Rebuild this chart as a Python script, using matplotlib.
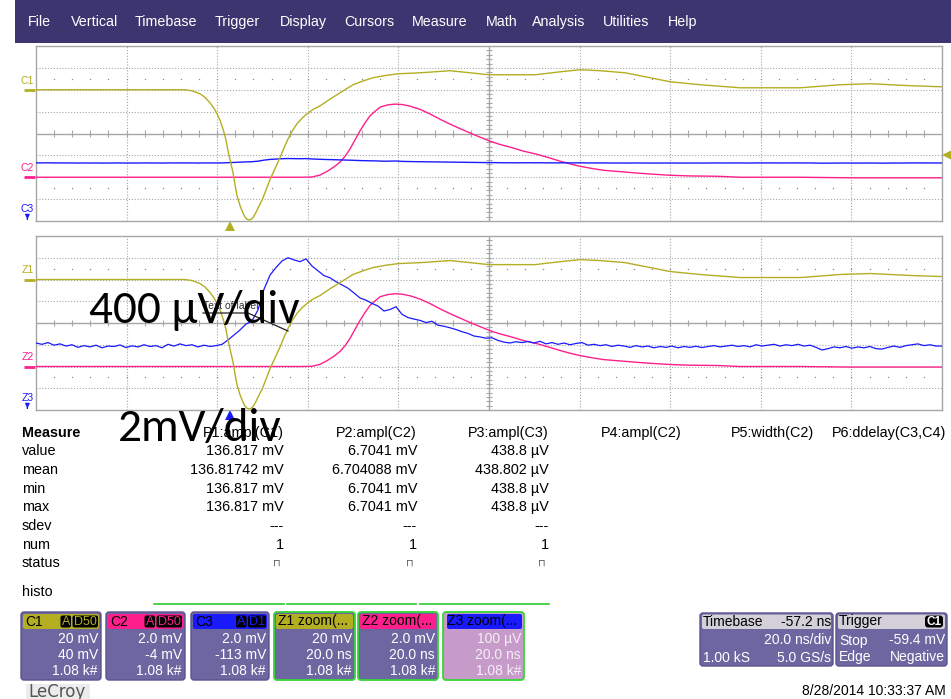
import numpy as np
import matplotlib
matplotlib.use("Agg")
import matplotlib.pyplot as plt
from matplotlib.patches import FancyBboxPatch, Rectangle
from matplotlib import font_manager
import matplotlib.transforms as mtransforms

_names = {f.name for f in font_manager.fontManager.ttflist}
SANS = 'Liberation Sans' if 'Liberation Sans' in _names else 'DejaVu Sans'
BIG = 'Carlito' if 'Carlito' in _names else ('Lato' if 'Lato' in _names else 'DejaVu Sans')

# ---------------- data ----------------
menu_items = ["File", "Vertical", "Timebase", "Trigger", "Display", "Cursors",
              "Measure", "Math", "Analysis", "Utilities", "Help"]

tdiv_ns = 20.0          # timebase ns/div
delay_ns = -57.2        # timebase delay

# C1 / Z1 (20 mV/div, offset 40 mV)
c1_t = [-42.80, -9.90, -8.36, -6.59, -5.48, -4.38, -3.50, -2.84, -2.17, -1.51, -0.85,
        -0.41, 0.26, 0.70, 1.14, 1.58, 2.24, 2.91, 3.35, 3.79, 4.45, 5.11, 5.78, 6.22,
        7.10, 7.76, 8.87, 9.97, 11.08, 11.96, 12.84, 13.72, 14.83, 15.93, 17.04, 18.36,
        19.91, 22.12, 24.32, 27.19, 29.40, 31.61, 34.26, 37.13, 41.99, 48.61, 53.03,
        57.22, 67.38, 72.90, 77.32, 81.73, 87.25, 92.77, 97.19, 103.81, 112.64, 125.89,
        134.72, 141.35, 150.18, 157.24]
c1_mV = [0, 0, -1, -3.7, -7, -12, -17, -22, -28, -36, -46,
         -56, -68, -76, -87, -97, -106, -113, -116.5, -118.5, -119, -117, -112, -108,
         -101, -94, -82, -72, -62, -53, -45, -38, -31, -26, -22, -18,
         -14.7, -8.5, -2.8, 4.6, 8, 11, 13, 14.6, 15.5, 17.4, 15.5,
         13.7, 13.7, 16.4, 18.3, 17.4, 15.5, 11, 7.3, 4.6, 1.8, 1.8,
         4.6, 5.5, 3.7, 2.7]
c1_scale, c1_offset = 20.0, 40.0

# C2 / Z2 (2 mV/div, offset -4 mV)
c2_t = [-42.8, 15.5, 18.1, 19.9, 21.5, 23.0, 24.3, 25.4, 26.5, 27.6, 28.7, 29.8, 30.9,
        32.1, 33.2, 34.9, 36.5, 38.0, 39.8, 42.0, 44.2, 46.4, 48.6, 50.8, 53.0, 55.2,
        57.4, 59.6, 61.9, 64.7, 67.8, 70.7, 72.9, 75.1, 77.3, 80.0, 82.4, 85.0, 87.7,
        90.6, 93.4, 97.2, 101.6, 107.6, 112.6, 125.9, 136.9, 148.0, 157.2]
c2_mV = [0, 0, 0.02, 0.2, 0.55, 0.95, 1.38, 1.9, 2.57, 3.4, 4.22, 4.95, 5.6,
         6.05, 6.42, 6.62, 6.69, 6.65, 6.5, 6.2, 5.78, 5.3, 4.86, 4.45, 4.05, 3.67,
         3.3, 3.0, 2.75, 2.4, 2.1, 1.75, 1.47, 1.22, 1.0, 0.8, 0.64, 0.55, 0.46,
         0.36, 0.28, 0.18, 0.12, 0.09, 0.0, 0.0, -0.05, -0.05, -0.05]
c2_scale, c2_offset = 2.0, -4.0

# C3 / Z3 (2 mV/div offset -113 mV ; zoom 100 uV/div), samples across the screen
c3_base_mV = 110.3
c3_uV = [18, 12, 20, 8, 14, 4, 10, -2, 6, 0, 8, -4, 4, 2, 9, -3, 5, 0, 10, 2,
         6, -4, 12, 4, 14, 6, 10, 0, 8, 2, 6, 12, 32, 55, 78, 105, 120, 170, 265, 330,
         365, 395, 410, 400, 392, 405, 372, 350, 328, 318, 300, 285, 270, 248, 225, 215,
         200, 188, 165, 172, 185, 150, 135, 128, 122, 112, 118, 100, 95, 88, 80, 70,
         62, 50, 46, 40, 42, 30, 22, 18, 24, 20, 25, 18, 26, 14, 20, 12, 18, 10,
         16, 20, 8, 12, 6, 10, 2, 8, 4, -2, 6, 0, 4, -4, 2, -2, 4, -4, 2, -2,
         3, -3, 2, 6, 0, 4, 8, 2, 6, 0, 10, 4, 8, 12, 4, 10, 6, 12, 4, 8,
         -2, -14, -8, 0, -4, 2, -6, 0, -4, 2, -8, -10, -2, 4, -2, 6, 10, 14, 6, 10,
         4, 4]
c3_scale, c3_offset = 2.0, -113.0
z3_scale, z3_center = 0.1, 110.41
trig_level_mV = -59.4

meas_labels = ["value", "mean", "min", "max", "sdev", "num", "status"]
meas_headers = ["P1:ampl(C1)", "P2:ampl(C2)", "P3:ampl(C3)", "P4:ampl(C2)",
                "P5:width(C2)", "P6:ddelay(C3,C4)"]
p1_vals = ["136.817 mV", "136.81742 mV", "136.817 mV", "136.817 mV", "---", "1"]
p2_vals = ["6.7041 mV", "6.704088 mV", "6.7041 mV", "6.7041 mV", "---", "1"]
p3_vals = ["438.8 µV", "438.802 µV", "438.8 µV", "438.8 µV", "---", "1"]

ch_names = ["C1", "C2", "C3", "Z1 zoom(...", "Z2 zoom(...", "Z3 zoom(..."]
ch_badges = [["A", "D50"], ["A", "D50"], ["A", "D1"], [], [], []]
ch_rows = [["20 mV", "40 mV", "1.08 k#"], ["2.0 mV", "-4 mV", "1.08 k#"],
           ["2.0 mV", "-113 mV", "1.08 k#"], ["20 mV", "20.0 ns", "1.08 k#"],
           ["2.0 mV", "20.0 ns", "1.08 k#"], ["100 µV", "20.0 ns", "1.08 k#"]]
tb_rows = [("Timebase", "-57.2 ns"), ("", "20.0 ns/div"), ("1.00 kS", "5.0 GS/s")]
trig_rows = [("Trigger", "C1"), ("Stop", "-59.4 mV"), ("Edge", "Negative")]
date_text = "8/28/2014 10:33:37 AM"

# ---------------- style ----------------
COL1 = '#b3ae22'
COL2 = '#ff1f8c'
COL3 = '#1a1aff'
BOXC = '#6d66a1'
BOXE = '#5a5390'
GRID = '#a6a6a6'
W, H = 951, 699
TFS = 10.4

fig = plt.figure(figsize=(W / 100, H / 100), dpi=100)
fig.patch.set_facecolor('white')

ax_bg = fig.add_axes([0, 0, 1, 1], zorder=0)
ax_bg.set_xlim(0, W); ax_bg.set_ylim(H, 0); ax_bg.axis('off')
ax_fg = fig.add_axes([0, 0, 1, 1], zorder=5)
ax_fg.set_xlim(0, W); ax_fg.set_ylim(H, 0); ax_fg.axis('off')

def panel(top, bottom):
    return fig.add_axes([36 / W, 1 - bottom / H, 906 / W, (bottom - top) / H], zorder=2)

ax_top = panel(46, 221)
ax_bot = panel(236, 410)

t_center = -delay_ns
t_left = t_center - 5 * tdiv_ns
t_right = t_center + 5 * tdiv_ns

def setup(ax):
    ax.set_xlim(t_left, t_right); ax.set_ylim(0, 8)
    ax.set_xticks([]); ax.set_yticks([])
    ax.set_facecolor('white')
    for s in ax.spines.values():
        s.set_color(GRID); s.set_linewidth(1.0)
    for k in range(1, 10):
        x = t_left + k * tdiv_ns
        if k == 5:
            ax.axvline(x, color=GRID, lw=1.0, zorder=1)
        else:
            ax.axvline(x, color=GRID, lw=0.8, ls=(0, (1, 1.6)), zorder=1)
    for j in range(1, 8):
        if j == 4:
            ax.axhline(j, color=GRID, lw=1.0, zorder=1)
        else:
            ax.axhline(j, color=GRID, lw=0.8, ls=(0, (1, 1.6)), zorder=1)
    minor = t_left + np.arange(1, 50) * tdiv_ns / 5
    ax.vlines(minor, 4 - 0.14, 4 + 0.14, color=GRID, lw=0.8, zorder=1)
    ax.hlines(np.arange(1, 40) * 0.2, t_center - 0.7, t_center + 0.7, color=GRID, lw=0.8, zorder=1)
    for yy in (1.5, 6.5):
        ax.plot(minor, np.full(minor.shape, yy), ls='none', marker='s', ms=0.9,
                mew=0, color='#8c8c8c', zorder=1)

setup(ax_top)
setup(ax_bot)

c1_div = (np.array(c1_mV) + c1_offset) / c1_scale + 4
c2_div = (np.array(c2_mV) + c2_offset) / c2_scale + 4
c3_t = np.linspace(t_left, t_right, len(c3_uV))
c3_mV = c3_base_mV + np.array(c3_uV) / 1000.0
c3_div = (c3_mV + c3_offset) / c3_scale + 4
z3_div = (c3_mV - z3_center) / z3_scale + 4

for ax in (ax_top, ax_bot):
    ax.plot(c2_t, c2_div, color=COL2, lw=1.0, zorder=3)
    ax.plot(c1_t, c1_div, color=COL1, lw=1.0, zorder=4)
ax_top.plot(c3_t, c3_div, color=COL3, lw=1.0, zorder=3.5)
ax_bot.plot(c3_t, z3_div, color=COL3, lw=0.9, zorder=3.5)

# markers around panels
def side(ax):
    return mtransforms.blended_transform_factory(ax.transAxes, ax.transData)
def below(ax):
    return mtransforms.blended_transform_factory(ax.transData, ax.transAxes)

ax_top.plot([0], [-0.03], marker='^', ms=7, color=COL1, mew=0, transform=below(ax_top), clip_on=False)
ax_bot.plot([0], [-0.03], marker='^', ms=7, color=COL3, mew=0, transform=below(ax_bot), clip_on=False)
trig_div = (trig_level_mV + c1_offset) / c1_scale + 4
ax_top.plot([1.006], [trig_div], marker='<', ms=7, color=COL1, mew=0, transform=side(ax_top), clip_on=False)

def ch_label(ax, name, col, ground_div, arrow=False):
    tr = side(ax)
    if arrow:
        ax.text(-0.0095, 0.55, name, color=col, fontsize=7.5, family=SANS,
                ha='center', va='center', transform=tr, clip_on=False)
        ax.annotate('', xy=(-0.0095, -0.05), xytext=(-0.0095, 0.22),
                    xycoords=tr, arrowprops=dict(arrowstyle='-|>', color=col, lw=1.0,
                                                 mutation_scale=6), annotation_clip=False)
    else:
        ax.text(-0.0095, ground_div + 0.42, name, color=col, fontsize=7.5, family=SANS,
                ha='center', va='center', transform=tr, clip_on=False)
        ax.plot([-0.0135, -0.001], [ground_div, ground_div], color=col, lw=2.0,
                transform=tr, clip_on=False, solid_capstyle='butt')

ch_label(ax_top, "C1", COL1, (0 + c1_offset) / c1_scale + 4)
ch_label(ax_top, "C2", COL2, (0 + c2_offset) / c2_scale + 4)
ch_label(ax_top, "C3", COL3, 0, arrow=True)
ch_label(ax_bot, "Z1", COL1, (0 + c1_offset) / c1_scale + 4)
ch_label(ax_bot, "Z2", COL2, (0 + c2_offset) / c2_scale + 4)
ch_label(ax_bot, "Z3", COL3, 0, arrow=True)

# ---------------- menu bar ----------------
ax_bg.add_patch(Rectangle((15, 0), W - 15, 43, fc='#3d3570', ec='none'))
menu_x = [28, 71, 135, 215, 280, 344, 412, 486, 532, 603, 668]
for mx, m in zip(menu_x, menu_items):
    ax_bg.text(mx, 22, m, color='white', fontsize=10.3, family=SANS, ha='left', va='center')

# ---------------- measurement table ----------------
row_y = [451, 470, 489, 507, 526, 545, 563]
ax_bg.text(22, 433, "Measure", fontsize=TFS, family=SANS, weight='bold', ha='left', va='center')
for yy, lab in zip(row_y, meas_labels):
    ax_bg.text(22, yy, lab, fontsize=TFS, family=SANS, ha='left', va='center')
ax_bg.text(22, 592, "histo", fontsize=TFS, family=SANS, ha='left', va='center')
col_right = [284, 417, 549, 682, 814, 946]
for cx, hd in zip(col_right, meas_headers):
    ax_bg.text(cx, 433, hd, fontsize=TFS, family=SANS, ha='right', va='center')
for cx, vals in zip(col_right[:3], (p1_vals, p2_vals, p3_vals)):
    for yy, v in zip(row_y, vals):
        ax_bg.text(cx, yy, v, fontsize=TFS, family=SANS, ha='right', va='center')
    ax_bg.text(cx - 3, row_y[6], "\u2293", fontsize=7, family='DejaVu Sans',
               color='#555555', ha='right', va='center')
for x0, x1 in ((154, 284), (287, 416), (420, 549)):
    ax_bg.plot([x0, x1], [604, 604], color='#2ecc2e', lw=1.2)

# ---------------- channel boxes ----------------
def rbox(x0, y0, x1, y1, fc, ec, lw=1.0, r=3.0, z=1):
    ax_bg.add_patch(FancyBboxPatch((x0, y0), x1 - x0, y1 - y0,
                                   boxstyle=f"round,pad=0,rounding_size={r}",
                                   fc=fc, ec=ec, lw=lw, zorder=z))

box_x = [(21, 101), (106, 185), (191, 269), (274, 355), (358, 438), (443, 524)]
head_cols = [COL1, COL2, COL3, COL1, COL2, COL3]
for i, ((x0, x1), name, badges, rows) in enumerate(zip(box_x, ch_names, ch_badges, ch_rows)):
    zoom = i >= 3
    body = '#c69bc9' if i == 5 else BOXC
    edge = '#36d636' if zoom else BOXE
    rbox(x0, 612, x1, 680, body, edge, lw=1.3 if zoom else 1.0)
    hx0 = x0 + (4 if i == 5 else 2)
    rbox(hx0, 614, x1 - 2, 629, head_cols[i], 'none', r=2, z=2)
    ax_bg.text(x0 + 4, 621.5, name, fontsize=10, family=SANS, color='black',
               ha='left', va='center', zorder=3)
    bx = x1 - 3
    for b in reversed(badges):
        wbad = 7.5 * len(b) + 3
        rbox(bx - wbad, 615.5, bx, 627.5, 'black', 'none', r=2, z=3)
        ax_bg.text(bx - wbad / 2, 621.8, b, fontsize=9, family=SANS, color=head_cols[i],
                   ha='center', va='center', zorder=4)
        bx -= wbad + 1.5
    tcol = '#f6eef6' if i == 5 else 'white'
    for yy, r in zip((639, 655, 671), rows):
        ax_bg.text(x1 - 3, yy, r, fontsize=10, family=SANS, color=tcol,
                   ha='right', va='center', zorder=3)

# timebase / trigger boxes
for (x0, x1), rows in (((700, 833), tb_rows), ((836, 947), trig_rows)):
    rbox(x0, 613, x1, 666, BOXC, BOXE)
    rbox(x0 + 2, 614.5, x1 - 2, 629, '#d3d0da', 'none', r=2, z=2)
    for k, (yy, (lft, rgt)) in enumerate(zip((621.5, 640.5, 657.5), rows)):
        col = 'black' if k == 0 else 'white'
        if lft:
            ax_bg.text(x0 + 3, yy, lft, fontsize=10, family=SANS, color=col,
                       ha='left', va='center', zorder=3)
        if rgt == "C1":
            rbox(x1 - 22, 615.5, x1 - 4, 627.5, 'black', 'none', r=3, z=3)
            ax_bg.text(x1 - 13, 621.8, rgt, fontsize=8.5, family=SANS, color='white',
                       weight='bold', ha='center', va='center', zorder=4)
        else:
            ax_bg.text(x1 - 2, yy, rgt, fontsize=10, family=SANS, color=col,
                       ha='right', va='center', zorder=3)

ax_bg.add_patch(Rectangle((26, 684), 64, 15, fc='#ececec', ec='none'))
ax_bg.text(28, 692, "LeCroy", fontsize=12, family='DejaVu Sans', color='#555555',
           ha='left', va='center')
ax_bg.text(946, 691, date_text, fontsize=10, family=SANS, color='black',
           ha='right', va='center')

# ---------------- overlay annotations ----------------
ax_fg.text(203, 309, "Text of label", fontsize=7.5, family=SANS, color='#333333',
           ha='left', va='baseline')
ax_fg.plot([203, 248, 288], [313, 313, 331], color='#222222', lw=0.9)
ax_fg.text(89, 323, "400 µV/div", fontsize=34, family=BIG, color='black',
           ha='left', va='baseline')
ax_fg.text(118, 441, "2mV/div", fontsize=34, family=BIG, color='black',
           ha='left', va='baseline')

fig.savefig("out.png", dpi=100, facecolor='white')
